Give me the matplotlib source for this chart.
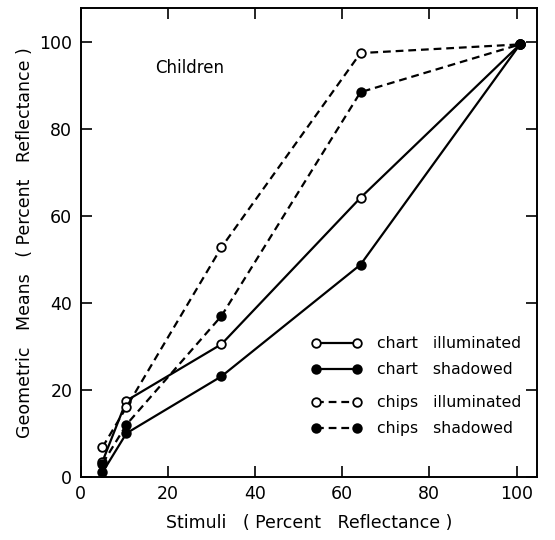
import matplotlib
matplotlib.use("Agg")
from matplotlib import pyplot as plt

# Stimuli (percent reflectance) and geometric means
stimuli = [5, 10.5, 32.3, 64.2, 100.8]
chart_illuminated = [3.5, 17.5, 30.5, 64.2, 99.5]
chart_shadowed = [1.0, 10.0, 23.1, 48.8, 99.5]
chips_illuminated = [6.8, 16.0, 52.8, 97.5, 99.5]
chips_shadowed = [3.0, 12.0, 37.0, 88.5, 99.5]

ticks = [0, 20, 40, 60, 80, 100]

plt.rcParams["font.family"] = "DejaVu Sans"

fig = plt.figure(figsize=(5.55, 5.4), dpi=100)
ax = fig.add_axes([0.1454, 0.1172, 0.8222, 0.8674])

dash = (0, (3.5, 2.2))
style = dict(color="black", lw=1.6, markersize=6.2, markeredgewidth=1.3)

l1, = ax.plot(stimuli, chart_illuminated, "-o", markerfacecolor="white", **style)
l2, = ax.plot(stimuli, chart_shadowed, "-o", markerfacecolor="black", **style)
l3, = ax.plot(stimuli, chips_illuminated, marker="o", linestyle=dash, markerfacecolor="white", **style)
l4, = ax.plot(stimuli, chips_shadowed, marker="o", linestyle=dash, markerfacecolor="black", **style)

ax.set_xlim(0, 104.7)
ax.set_ylim(0.8, 107.8)
ax.set_xticks(ticks)
ax.set_yticks(ticks)
ax.tick_params(direction="in", length=8, width=1.2, top=True, right=True,
               labelsize=12.5, pad=6)
for s in ax.spines.values():
    s.set_linewidth(1.4)

ax.text(17, 93, "Children", fontsize=12)

ax.set_xlabel("Stimuli   ( Percent   Reflectance )", fontsize=12.5, labelpad=8)
ax.set_ylabel("Geometric   Means   ( Percent   Reflectance )", fontsize=12.5, labelpad=4)

leg_kw = dict(frameon=False, fontsize=11.3, numpoints=2, handlelength=3.2,
              handletextpad=1.0, labelspacing=0.68, borderaxespad=0)
leg1 = ax.legend([l1, l2], ["chart   illuminated", "chart   shadowed"],
                 loc="upper left", bbox_to_anchor=(0.492, 0.313), **leg_kw)
ax.add_artist(leg1)
ax.legend([l3, l4], ["chips   illuminated", "chips   shadowed"],
          loc="upper left", bbox_to_anchor=(0.492, 0.187), **leg_kw)

fig.savefig("out.png", dpi=100)
